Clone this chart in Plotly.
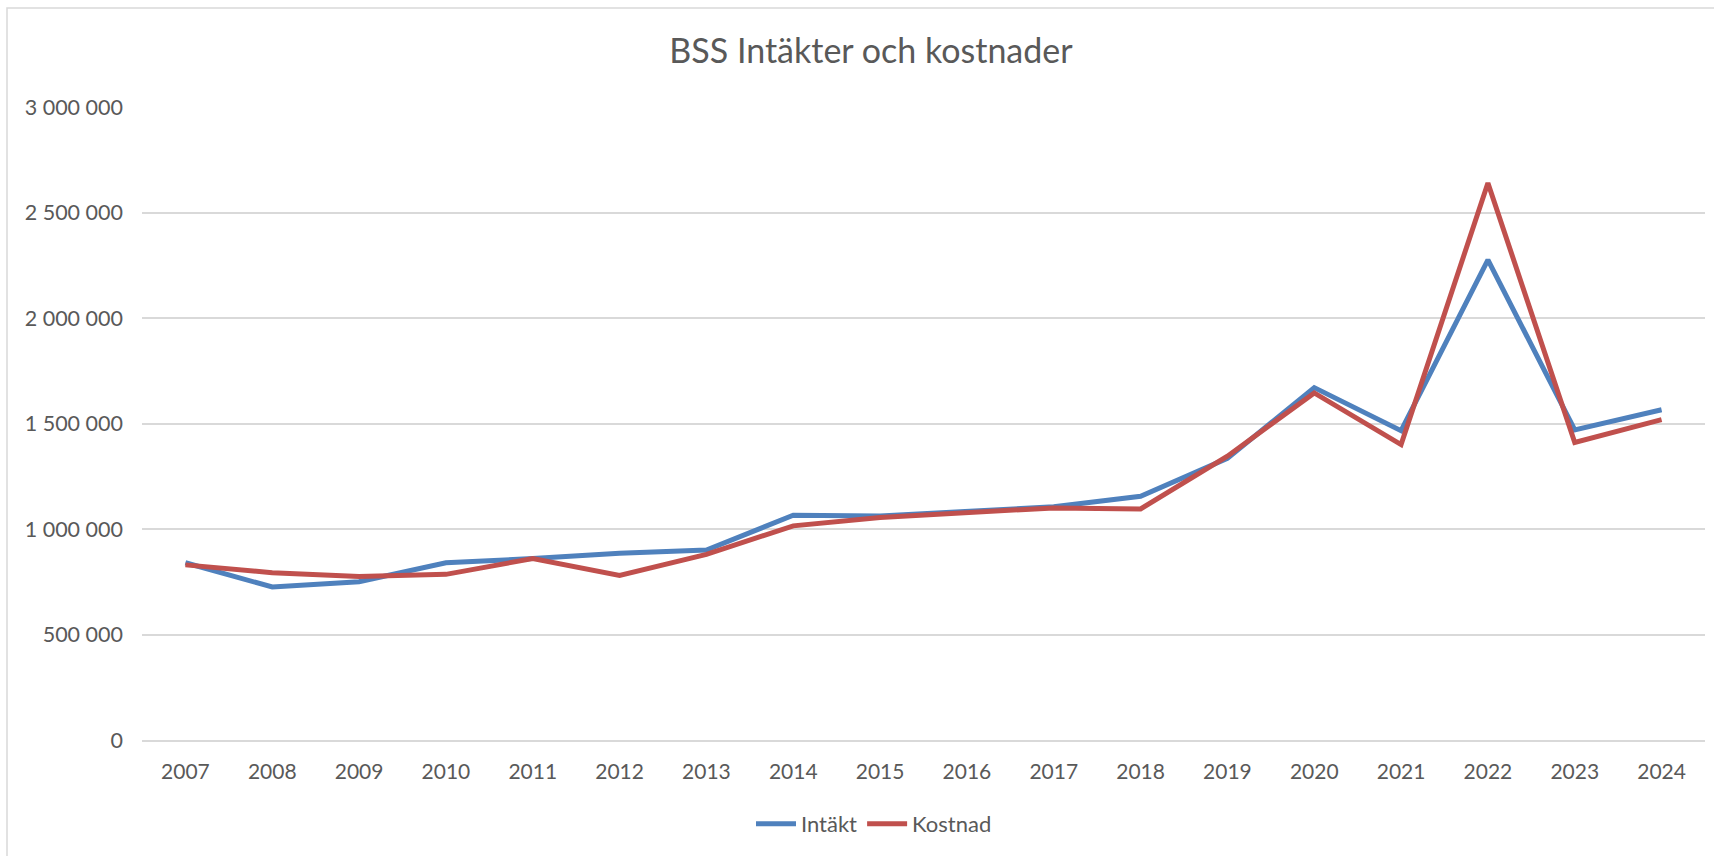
import plotly.graph_objects as go

years = [str(y) for y in range(2007, 2025)]
intakt = [840000, 725000, 750000, 840000, 860000, 885000, 900000, 1065000, 1062000,
          1083000, 1105000, 1155000, 1335000, 1670000, 1466000, 2275000, 1470000, 1565000]
kostnad = [830000, 793000, 775000, 785000, 860000, 780000, 880000, 1015000, 1055000,
           1078000, 1100000, 1095000, 1345000, 1645000, 1400000, 2640000, 1410000, 1518000]
y_ticks = [0, 500000, 1000000, 1500000, 2000000, 2500000, 3000000]
y_tick_labels = ["0", "500 000", "1 000 000", "1 500 000", "2 000 000", "2 500 000", "3 000 000"]

FONT = "Lato"
TXT = "#595959"
GRID = "#D9D9D9"

L, R, T, B = 142, 9, 107, 116
W, H = 1714, 856
pw = W - L - R
ph = H - T - B

fig = go.Figure()
fig.add_trace(go.Scatter(x=years, y=intakt, mode="lines", name="Intäkt",
                         line=dict(color="#4F81BD", width=5)))
fig.add_trace(go.Scatter(x=years, y=kostnad, mode="lines", name="Kostnad",
                         line=dict(color="#C0504D", width=5)))

def px_x(p):
    return (p - L) / pw

def px_y(p):
    return (H - B - p) / ph

fig.update_layout(
    width=W, height=H,
    margin=dict(l=L, r=R, t=T, b=B),
    paper_bgcolor="white", plot_bgcolor="white",
    font=dict(family=FONT, color=TXT),
    title=dict(text="BSS Intäkter och kostnader", x=871 / W, xref="container",
               y=1 - 51 / H, xanchor="center", yanchor="middle",
               font=dict(family=FONT, size=34, color=TXT)),
    xaxis=dict(type="category", range=[-0.5, len(years) - 0.5],
               showgrid=False, showline=True, linecolor=GRID, linewidth=1.5,
               ticks="", tickfont=dict(family=FONT, size=21, color=TXT),
               ticklabelstandoff=12, fixedrange=True),
    yaxis=dict(range=[0, 3000000], tickvals=y_ticks, ticktext=y_tick_labels,
               showgrid=True, gridcolor=GRID, gridwidth=1.5, zeroline=False, showline=False,
               ticks="", tickfont=dict(family=FONT, size=21.5, color=TXT),
               ticklabelstandoff=18, fixedrange=True),
    legend=dict(orientation="h", x=px_x(874), xanchor="center", y=px_y(824), yanchor="middle",
                font=dict(family=FONT, size=22, color=TXT), itemwidth=40,
                traceorder="normal", bgcolor="rgba(0,0,0,0)"),
    showlegend=True,
)

# chart-area border
fig.add_shape(type="rect", xref="paper", yref="paper",
              x0=px_x(7), x1=px_x(1740), y0=px_y(880), y1=px_y(8),
              line=dict(color=GRID, width=1.5), fillcolor="rgba(0,0,0,0)", layer="below")

fig.write_html("out.html", config={"displayModeBar": False},
               post_script="document.body.style.margin='0';document.body.style.overflow='hidden';")
